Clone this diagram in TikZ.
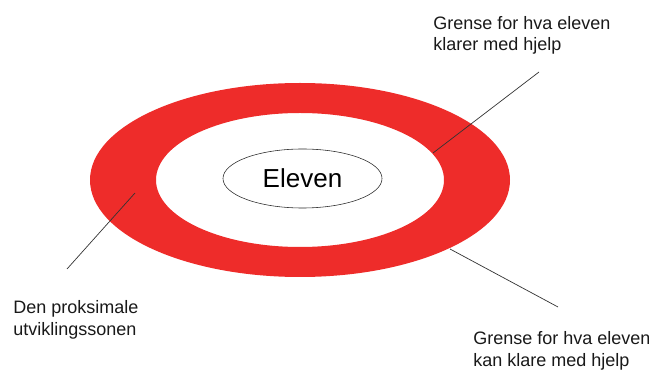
\documentclass[tikz,border=0pt]{standalone}
\usepackage{fontspec}
\setmainfont{Liberation Sans}
\usepackage{tikz}
\usetikzlibrary{shapes.geometric}
\definecolor{ringred}{RGB}{238,44,42}

\begin{document}
\begin{tikzpicture}[
  x=0.025cm,
  y=-0.025cm,
  ring/.style={
    fill=ringred,
    even odd rule
  },
  pupil/.style={
    ellipse,
    draw=black!85,
    thin,
    minimum width=3.975cm,
    minimum height=1.475cm,
    inner sep=0pt,
    font=\fontsize{18.5}{20}\selectfont
  },
  caption/.style={
    anchor=base west,
    align=left,
    inner sep=0pt,
    font=\fontsize{12.8}{15.2}\selectfont,
    text=black!90
  },
  pointer/.style={
    black!80,
    line width=0.5pt
  }
]

\useasboundingbox (0,0) rectangle (649,379);

% Red ring around the pupil
\fill[ring]
  (300,180) ellipse [x radius=210, y radius=97]
  (300,180) ellipse [x radius=144, y radius=67];

\node[pupil] (eleven) at (302.5,178.5) {Eleven};

% Labels (anchored at the baseline of the last line)
\node[caption] (upper) at (433,51)
  {Grense for hva eleven\\klarer med hjelp};

\node[caption] (zone) at (13,335)
  {Den proksimale\\utviklingssonen};

\node[caption] (lower) at (473,366)
  {Grense for hva eleven\\kan klare med hjelp};

% Pointer lines
\coordinate (upper-tip) at (433,153);
\coordinate (upper-end) at (539,72);
\coordinate (zone-tip) at (135,193);
\coordinate (zone-end) at (67,269);
\coordinate (lower-tip) at (450,249);
\coordinate (lower-end) at (558,307);

\draw[pointer] (upper-tip) -- (upper-end);
\draw[pointer] (zone-tip) -- (zone-end);
\draw[pointer] (lower-tip) -- (lower-end);

\end{tikzpicture}
\end{document}
